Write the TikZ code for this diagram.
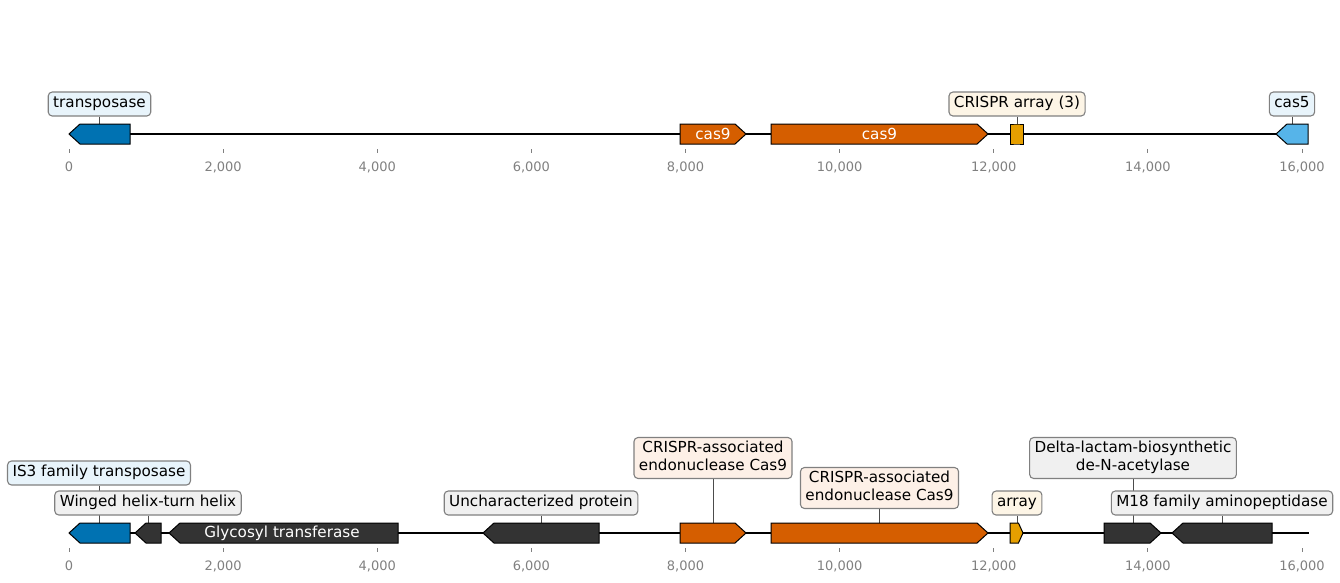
\documentclass[tikz,border=0pt]{standalone}
\usepackage{fontspec}
\setmainfont{DejaVu Sans}
\usetikzlibrary{shapes.symbols,backgrounds}

\definecolor{tnpblue}{HTML}{0072B2}
\definecolor{cfiveblue}{HTML}{56B4E9}
\definecolor{cnineorange}{HTML}{D55E00}
\definecolor{arrayyellow}{HTML}{E69F00}
\definecolor{othergray}{HTML}{333333}
\definecolor{bluetint}{HTML}{E8F4FB}
\definecolor{yellowtint}{HTML}{FDF5E6}
\definecolor{orangetint}{HTML}{FDF0E7}
\definecolor{graytint}{HTML}{F0F0F0}

\begin{document}
\begin{tikzpicture}[x=1pt, y=-1pt,
	gene/.style={shape=signal, draw=black, line width=1pt, inner sep=0pt, outer sep=0pt, minimum height=20pt, signal pointer angle=84.6, signal from=nowhere},
	fwd/.style={gene, signal to=east, anchor=west},
	rev/.style={gene, signal to=west, anchor=east},
	block/.style={gene, signal to=nowhere},
	genetext/.style={text=white, inner sep=0pt, font=\fontsize{15.2}{18}\selectfont},
	tag/.style={draw=gray, line width=1.1pt, rounded corners=4pt, inner xsep=5pt, inner ysep=3pt, font=\fontsize{15.2}{18}\selectfont, execute at begin node=\strut, execute at end node=\strut},
	stem/.style={draw=black!70, line width=0.8pt},
	backbone/.style={draw=black, line width=1.8pt},
	tickmark/.style={draw=gray, line width=0.8pt},
	ticklabel/.style={text=gray, font=\fontsize{13}{15}\selectfont, anchor=base}]
	\useasboundingbox (0,0) rectangle (1340,582);

	% top record
	\coordinate (start1) at (69,134);
	\coordinate (end1) at (1308,134);
	\draw [backbone] (start1) -- (end1);
	\node [rev, fill=tnpblue, minimum width=61pt] (transp1) at (130,134) {};
	\node [fwd, fill=cnineorange, minimum width=66pt] (cas9a1) at (680,134) {};
	\node [fwd, fill=cnineorange, minimum width=217pt] (cas9b1) at (771,134) {};
	\node [block, fill=arrayyellow, minimum width=12.5pt] (array1) at (1016.75,134) {};
	\node [rev, fill=cfiveblue, minimum width=32pt] (cas5) at (1308,134) {};
	\node [genetext] (cas9a1txt) at (713,134) {cas9};
	\node [genetext] (cas9b1txt) at (879.5,134) {cas9};
	\node [tag, fill=bluetint] (ltransp1) at (99.5,104) {transposase};
	\node [tag, fill=yellowtint] (larray1) at (1017,104) {CRISPR array (3)};
	\node [tag, fill=bluetint] (lcas5) at (1292,104) {cas5};

	% bottom record
	\coordinate (start2) at (69,533);
	\coordinate (end2) at (1309,533);
	\draw [backbone] (start2) -- (end2);
	\node [rev, fill=tnpblue, minimum width=61pt] (transp2) at (130,533) {};
	\node [rev, fill=othergray, minimum width=26pt] (wing) at (161,533) {};
	\node [rev, fill=othergray, minimum width=229pt] (glyco) at (398,533) {};
	\node [rev, fill=othergray, minimum width=116pt] (unchar) at (599,533) {};
	\node [fwd, fill=cnineorange, minimum width=66pt] (cas9a2) at (680,533) {};
	\node [fwd, fill=cnineorange, minimum width=217pt] (cas9b2) at (771,533) {};
	\node [fwd, fill=arrayyellow, minimum width=13pt, signal pointer angle=131] (array2) at (1010,533) {};
	\node [fwd, fill=othergray, minimum width=57pt] (delta) at (1104,533) {};
	\node [rev, fill=othergray, minimum width=100pt] (amino) at (1272,533) {};
	\node [genetext] (glycotxt) at (282,533) {Glycosyl transferase};
	\node [tag, fill=bluetint] (ltransp2) at (99,473) {IS3 family transposase\ };
	\node [tag, fill=graytint] (lwing) at (148,503) {Winged helix-turn helix\ };
	\node [tag, fill=graytint] (lunchar) at (541,503) {Uncharacterized protein\ };
	\node [tag, fill=orangetint, align=center] (lcas9a) at (713,458) {CRISPR-associated\\endonuclease Cas9};
	\node [tag, fill=orangetint, align=center] (lcas9b) at (879.5,488) {CRISPR-associated\\endonuclease Cas9};
	\node [tag, fill=yellowtint] (larray2) at (1017,503) {array};
	\node [tag, fill=graytint, align=center] (ldelta) at (1133,458) {Delta-lactam-biosynthetic\\de-N-acetylase};
	\node [tag, fill=graytint] (lamino) at (1222,503) {M18 family aminopeptidase\ };

	% stems, behind the boxes
	\begin{scope}[on background layer]
		\draw [stem] (ltransp1.south) -- (ltransp1.south |- transp1.north);
		\draw [stem] (larray1.south) -- (larray1.south |- array1.north);
		\draw [stem] (lcas5.south) -- (lcas5.south |- cas5.north);
		\draw [stem] (ltransp2.south) -- (ltransp2.south |- transp2.north);
		\draw [stem] (lwing.south) -- (lwing.south |- wing.north);
		\draw [stem] (lunchar.south) -- (lunchar.south |- unchar.north);
		\draw [stem] (lcas9a.south) -- (lcas9a.south |- cas9a2.north);
		\draw [stem] (lcas9b.south) -- (lcas9b.south |- cas9b2.north);
		\draw [stem] (larray2.south) -- (larray2.south |- array2.north);
		\draw [stem] (ldelta.south) -- (ldelta.south |- delta.north);
		\draw [stem] (lamino.south) -- (lamino.south |- amino.north);
	\end{scope}

	% axes
	\foreach \k/\lab in {0/0, 1/{2,000}, 2/{4,000}, 3/{6,000}, 4/{8,000}, 5/{10,000}, 6/{12,000}, 7/{14,000}, 8/{16,000}} {
		\draw [tickmark] (69+154.125*\k,149) -- (69+154.125*\k,153);
		\node [ticklabel] (tickA\k) at (69+154.125*\k,171) {\lab};
		\draw [tickmark] (69+154.125*\k,548) -- (69+154.125*\k,552);
		\node [ticklabel] (tickB\k) at (69+154.125*\k,570) {\lab};
	}
\end{tikzpicture}
\end{document}
